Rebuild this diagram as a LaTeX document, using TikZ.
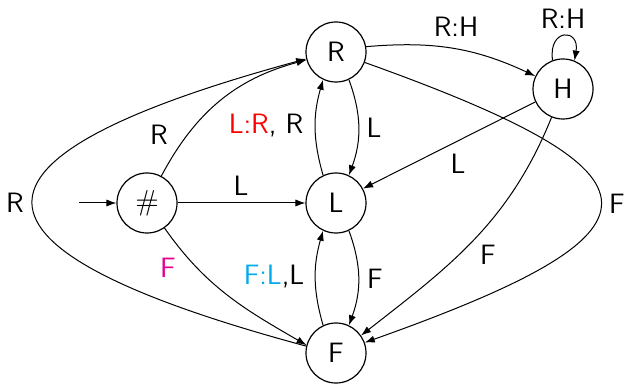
\documentclass[tikz,border=0pt]{standalone}
\usetikzlibrary{arrows.meta}
\definecolor{lred}{RGB}{255,0,0}
\definecolor{lmag}{RGB}{230,0,140}
\definecolor{lcyan}{RGB}{0,170,235}
\begin{document}
\begin{tikzpicture}[x=0.5pt,y=-0.5pt,
  state/.style={circle,draw,line width=0.6pt,minimum size=30pt,inner sep=0pt,font=\fontsize{14}{16}\sffamily},
  lbl/.style={font=\fontsize{14}{16}\sffamily,inner sep=0pt},
  edge/.style={draw,line width=0.5pt,-{Latex[length=5pt,width=3.6pt]}},
]
\useasboundingbox (0,0) rectangle (624,384);
\node[state] (R) at (336,52) {R};
\node[state] (H) at (563,89) {H};
\node[state] (hash) at (147,203) {$\#$};
\node[state] (L) at (336,203) {L};
\node[state] (F) at (336,353) {F};
\coordinate (start) at (79,203);

\draw[edge] (start) -- (hash);
\draw[edge] (hash) -- (L);
\draw[edge] (hash) to[out=62,in=195] (R.195);
\draw[edge] (F.167) .. controls (-58,248) and (-58,158) .. (R.193);
\draw[edge] (R.-20) .. controls (679,175) and (679,231) .. (F.20);
\draw[edge] (R.10) to[out=5,in=155] (H.155);
\draw[edge] (H.110) .. controls (548,28) and (580,28) .. (H.68);
\draw[edge] (H.205) -- (L.28);
\draw[edge] (H.-112) to[out=-112,in=38] (F.35);
\draw[edge] (hash.-55) to[out=-55,in=150] (F.165);
\draw[edge] (R.-65) to[bend left=20] (L.65);
\draw[edge] (L.115) to[bend left=16] (R.-115);
\draw[edge] (L.-65) to[bend left=20] (F.65);
\draw[edge] (F.115) to[bend left=16] (L.-115);

\node[lbl] (lR1) at (15,203) {R};
\node[lbl] (lR2) at (159,135) {R};
\node[lbl] (lLR) at (266,126) {\textcolor{lred}{L:R}, R};
\node[lbl] (lL1) at (374,128) {L};
\node[lbl] (lL2) at (241,186) {L};
\node[lbl] (lRH1) at (456,27) {R:H};
\node[lbl] (lRH2) at (563,19) {R:H};
\node[lbl] (lL3) at (458,164) {L};
\node[lbl] (lF1) at (617,204) {F};
\node[lbl] (lF2) at (168,268) {\textcolor{lmag}{F}};
\node[lbl] (lFL) at (274,277) {\textcolor{lcyan}{F:L},L};
\node[lbl] (lF3) at (375,279) {F};
\node[lbl] (lF4) at (488,255) {F};
\end{tikzpicture}
\end{document}
